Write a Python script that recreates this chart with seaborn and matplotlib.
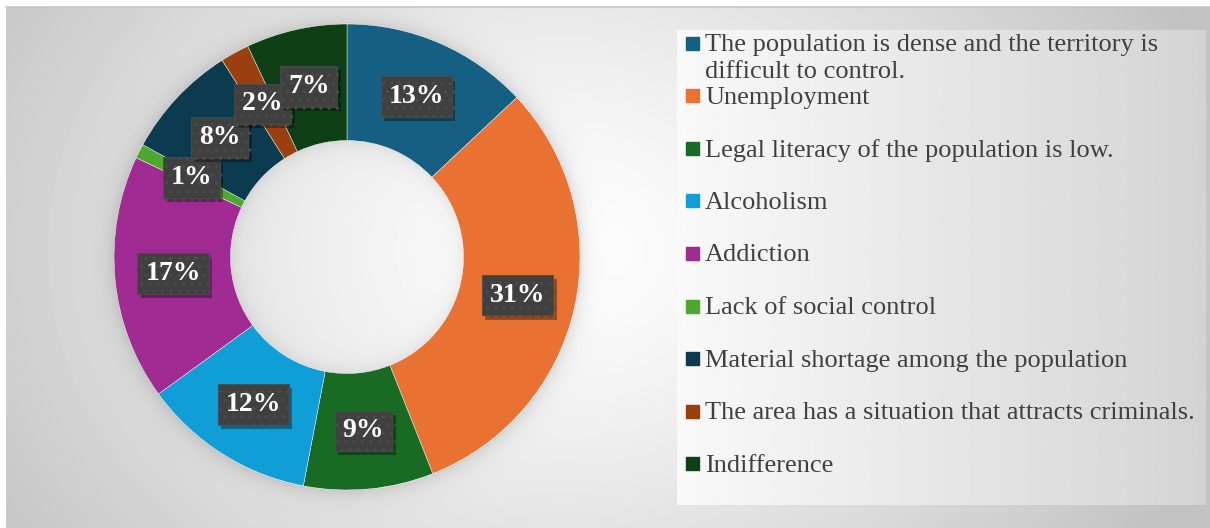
import numpy as np
import matplotlib.pyplot as plt
import matplotlib.patheffects as pe
from matplotlib.patches import Rectangle
import seaborn as sns

# data
categories = [
    "The population is dense and the territory is\ndifficult to control.",
    "Unemployment",
    "Legal literacy of the population is low.",
    "Alcoholism",
    "Addiction",
    "Lack of social control",
    "Material shortage among the population",
    "The area has a situation that attracts criminals.",
    "Indifference",
]
shares = [13, 31, 9, 12, 17, 1, 8, 2, 7]
colors = ["#156082", "#E97132", "#196B24", "#0F9ED5", "#A02B93",
          "#4EA72E", "#0C3A4E", "#9A4010", "#0F4015"]

sns.set_theme(style="white")
plt.rcParams["font.family"] = ["Liberation Serif", "DejaVu Serif"]

W, H = 1210, 528
fig = plt.figure(figsize=(W / 100, H / 100), dpi=100)
fig.patch.set_facecolor("white")

# pixel geometry of the donut
cx, cy, R, Rin = 347, 257, 233, 117

# background panel: radial gradient plus soft halo round the ring
bg = fig.add_axes([0, 0, 1, 1])
bg.set_xlim(0, W)
bg.set_ylim(H, 0)
bg.axis("off")
yy, xx = np.mgrid[7:H, 6:W]
d = np.hypot(xx - 560, (yy - 250) * 1.25)
val = 1 - 0.24 * np.clip(d / 690, 0, 1) ** 1.2
r = np.hypot(xx - cx, yy - cy)
val -= 0.10 * np.exp(-np.clip(r - R, 0, None) / 9) * (r > R)
val -= 0.07 * np.exp(-np.clip(Rin - r, 0, None) / 9) * (r < Rin)
bg.imshow(val, cmap="gray", vmin=0, vmax=1, extent=(6, W, H, 7),
          aspect="auto", interpolation="bilinear", zorder=0)
bg.plot([6, W], [7, 7], color="#c6c6c6", lw=1.2, zorder=1)

# legend box gradient
lx0, lx1, ly0, ly1 = 677, 1206, 30, 505
grad = np.linspace(0.975, 0.83, 300)[None, :] * np.ones((10, 1))
bg.imshow(grad, cmap="gray", vmin=0, vmax=1, extent=(lx0, lx1, ly1, ly0),
          aspect="auto", interpolation="bilinear", zorder=1)

# donut
ax = fig.add_axes([(cx - R) / W, (H - cy - R) / H, 2 * R / W, 2 * R / H])
wedges, _ = ax.pie(shares, colors=colors, startangle=90, counterclock=False,
                   radius=1, wedgeprops=dict(width=0.5, edgecolor="white", linewidth=0.3))
ax.set_xlim(-1, 1)
ax.set_ylim(-1, 1)
ax.axis("off")
ax.patch.set_alpha(0)

for w, v in zip(wedges, shares):
    th = np.deg2rad((w.theta1 + w.theta2) / 2)
    x, y = 0.75 * np.cos(th), 0.75 * np.sin(th)
    t = ax.text(x, y, f"{v}%", ha="center", va="center", fontsize=20,
                fontweight="bold", color="white",
                bbox=dict(boxstyle="square,pad=0.28", fc="#404040", ec="#4c4c4c",
                          lw=0.6, hatch=".."))
    t.get_bbox_patch().set_path_effects([
        pe.SimplePatchShadow(offset=(2.5, -3), shadow_rgbFace="black", alpha=0.35),
        pe.Normal()])

# legend drawn by hand (first entry wraps onto two lines)
for i, (lab, col) in enumerate(zip(categories, colors)):
    yc = 43 + i * 52.6
    bg.add_patch(Rectangle((686, yc - 6.5), 13, 13, color=col, zorder=3))
    bg.text(705, yc - 9, lab, va="top", ha="left", fontsize=19,
            color="#404040", linespacing=1.3, zorder=3)

fig.savefig("out.png", dpi=100)
